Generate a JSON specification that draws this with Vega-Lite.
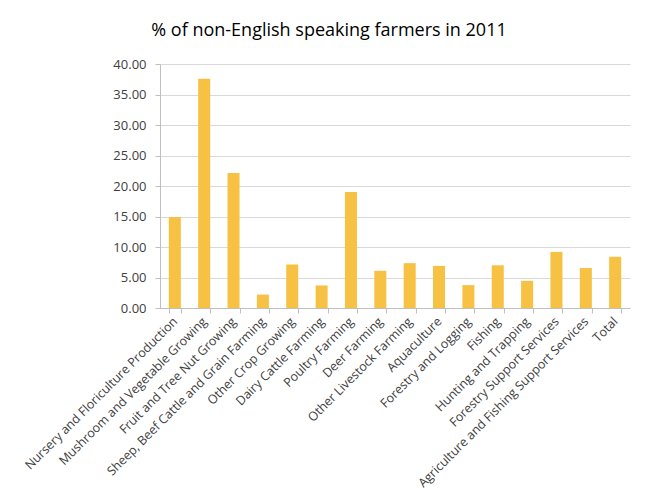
{
  "$schema": "https://vega.github.io/schema/vega-lite/v6.json",
  "autosize": "none",
  "width": 470,
  "height": 244,
  "padding": {"left": 160, "top": 64, "right": 18, "bottom": 193},
  "background": "white",
  "title": {
    "text": "% of non-English speaking farmers in 2011",
    "anchor": "middle",
    "dx": -66,
    "offset": 18,
    "font": "Open Sans",
    "fontSize": 18,
    "fontWeight": "normal",
    "color": "#000000"
  },
  "data": {
    "values": [
      {"industry": "Nursery and Floriculture Production", "pct": 14.9},
      {"industry": "Mushroom and Vegetable Growing", "pct": 37.6},
      {"industry": "Fruit and Tree Nut Growing", "pct": 22.15},
      {"industry": "Sheep, Beef Cattle and Grain Farming", "pct": 2.2},
      {"industry": "Other Crop Growing", "pct": 7.15},
      {"industry": "Dairy Cattle Farming", "pct": 3.7},
      {"industry": "Poultry Farming", "pct": 19.0},
      {"industry": "Deer Farming", "pct": 6.1},
      {"industry": "Other Livestock Farming", "pct": 7.35},
      {"industry": "Aquaculture", "pct": 6.9},
      {"industry": "Forestry and Logging", "pct": 3.75},
      {"industry": "Fishing", "pct": 7.0},
      {"industry": "Hunting and Trapping", "pct": 4.45},
      {"industry": "Forestry Support Services", "pct": 9.2},
      {"industry": "Agriculture and Fishing Support Services", "pct": 6.55},
      {"industry": "Total", "pct": 8.4}
    ]
  },
  "mark": {"type": "bar", "color": "#F7C143"},
  "encoding": {
    "x": {
      "field": "industry",
      "type": "nominal",
      "sort": null,
      "title": null,
      "scale": {"paddingInner": 0.59, "paddingOuter": 0.3},
      "axis": {
        "labelAngle": -45,
        "labelAlign": "right",
        "labelBaseline": "middle",
        "labelFont": "Open Sans",
        "labelFontSize": 12.5,
        "labelColor": "#404040",
        "labelPadding": 6,
        "labelLimit": 400,
        "tickBand": "extent",
        "tickColor": "#BFBFBF",
        "tickSize": 5,
        "domainColor": "#BFBFBF",
        "grid": false
      }
    },
    "y": {
      "field": "pct",
      "type": "quantitative",
      "title": null,
      "scale": {"domain": [0, 40], "nice": false},
      "axis": {
        "values": [0, 5, 10, 15, 20, 25, 30, 35, 40],
        "format": ".2f",
        "labelFont": "Open Sans",
        "labelFontSize": 13,
        "labelColor": "#404040",
        "labelPadding": 9,
        "tickSize": 5,
        "tickColor": "#BFBFBF",
        "domainColor": "#BFBFBF",
        "gridColor": "#D9D9D9",
        "gridWidth": 1
      }
    }
  },
  "config": {"view": {"stroke": null}}
}
